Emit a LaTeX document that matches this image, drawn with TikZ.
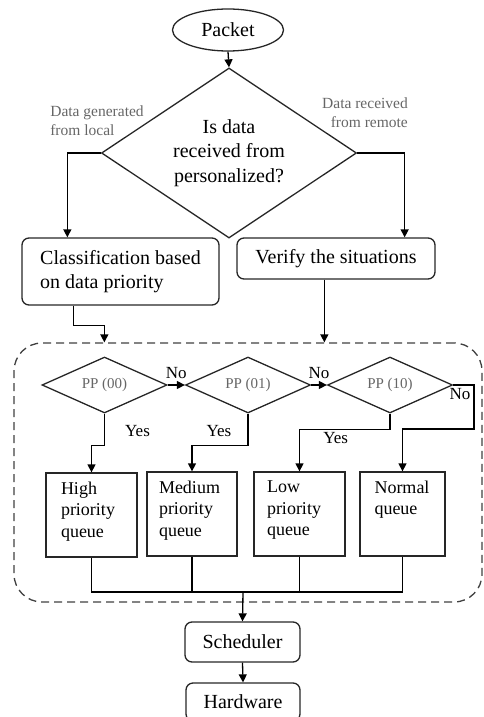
\documentclass[tikz,border=0pt]{standalone}
\usepackage{fontspec}
\setmainfont{Liberation Serif}
\usetikzlibrary{shapes.geometric,arrows.meta}

\begin{document}
\begin{tikzpicture}[x=1pt,y=-1pt,line width=1.3pt,
	arr/.style={-{Triangle[length=8pt,width=8pt]}},
	rbox/.style={rectangle,rounded corners=7pt,draw=black!85,align=left,font=\fontsize{20}{24.5}\selectfont},
	qbox/.style={rectangle,draw=black!85,inner sep=0pt,minimum height=84pt,font=\fontsize{18}{21.5}\selectfont},
	ppdia/.style={diamond,draw=black!85,aspect=2.2,inner sep=0pt,minimum width=125pt,minimum height=56pt,text=black!60,font=\fontsize{15}{18}\selectfont},
	lbl/.style={inner sep=0pt,font=\fontsize{17}{20}\selectfont},
	side/.style={inner sep=0pt,text=black!60,font=\fontsize{15.5}{19}\selectfont}]
	\useasboundingbox (0,0) rectangle (484,717);

	\node (pbox) at (248,472.5) [rectangle,rounded corners=28pt,draw=black!75,dash pattern=on 8pt off 5pt,minimum width=468pt,minimum height=259pt]{};

	\node (packet) at (228,30) [ellipse,draw=black!85,inner sep=0pt,minimum width=111pt,minimum height=42pt,font=\fontsize{20}{24}\selectfont]{Packet};
	\node (query) at (229,153) [diamond,draw=black!85,aspect=1.5,inner sep=0pt,minimum width=255pt,minimum height=170pt,align=center,font=\fontsize{20}{24.5}\selectfont]{
		Is data\\
		received from\\
		personalized?
	};
	\node (fromlocal) at (97,121) [side,align=left]{Data generated\\from local};
	\node (fromremote) at (365,113) [side,align=right]{Data received\\from remote};

	\node (classify) at (120.5,271.5) [rbox,minimum width=197pt,minimum height=67pt]{
		Classification based\\
		on data priority
	};
	\node (verify) at (336,258.5) [rbox,minimum width=198pt,minimum height=41pt]{Verify the situations};

	\node (pp0) at (104.5,385) [ppdia]{PP (00)};
	\node (pp1) at (248,385) [ppdia]{PP (01)};
	\node (pp2) at (390,385) [ppdia]{PP (10)};

	\node (high) at (91.5,515) [qbox,minimum width=91pt]{\parbox[c][66pt][t]{61pt}{\raggedright High\\priority\\queue}};
	\node (medium) at (192,514) [qbox,minimum width=90pt]{\parbox[c][66pt][t]{66pt}{\raggedright Medium\\priority\\queue}};
	\node (low) at (299.5,514) [qbox,minimum width=91pt]{\parbox[c][66pt][t]{65pt}{\raggedright Low\\priority\\queue}};
	\node (normal) at (402.5,514) [qbox,minimum width=85pt]{\parbox[c][66pt][t]{56pt}{\raggedright Normal\\queue}};

	\node (sched) at (242.5,642) [rbox,minimum width=115pt,minimum height=40pt]{Scheduler};
	\node (hard) at (243,702) [rbox,minimum width=114pt,minimum height=38pt]{Hardware};

	\draw[arr] (packet.south) -- (query.north);
	\coordinate (clin) at ([xshift=46pt]classify.north west);
	\coordinate (vin) at ([xshift=-31pt]verify.north east);
	\draw[arr] (query.west) -| (clin);
	\draw[arr] (query.east) -| (vin);

	\coordinate (clout) at ([xshift=52pt]classify.south west);
	\coordinate (pbin) at ([xshift=91pt]pbox.north west);
	\coordinate (vout) at ([xshift=88pt]verify.south west);
	\draw[arr] (clout) -- ++(0,20) -| (pbin);
	\draw[arr] (vout) -- (vout |- pbox.north);

	\draw[arr] (pp0.east) -- node[lbl,above=6pt] (no0) {No} (pp1.west);
	\draw[arr] (pp1.east) -- node[lbl,above=6pt] (no1) {No} (pp2.west);
	\coordinate (nobend) at (474,429);
	\draw[arr] (pp2.east) -| node[lbl,pos=0.6,left=3pt] (no2) {No} (nobend) -| (normal.north);

	\draw[arr] (pp0.south) -- ++(0,32) node[lbl,pos=0.55,right=20pt] (yes0) {Yes} -| (high.north);
	\draw[arr] (pp1.south) -- ++(0,32) node[lbl,pos=0.55,left=16pt] (yes1) {Yes} -| (medium.north);
	\draw[arr] (pp2.south) -- ++(0,16) -| node[lbl,pos=0.3,below=2pt] (yes2) {Yes} (low.north);

	\coordinate (bus) at (243,592);
	\draw (high.south) |- (normal.south |- bus) -- (normal.south);
	\draw (medium.south) -- (medium.south |- bus);
	\draw (low.south) -- (low.south |- bus);
	\draw[arr] (bus) -- (sched.north);
	\draw[arr] (sched.south) -- (hard.north);
\end{tikzpicture}
\end{document}
